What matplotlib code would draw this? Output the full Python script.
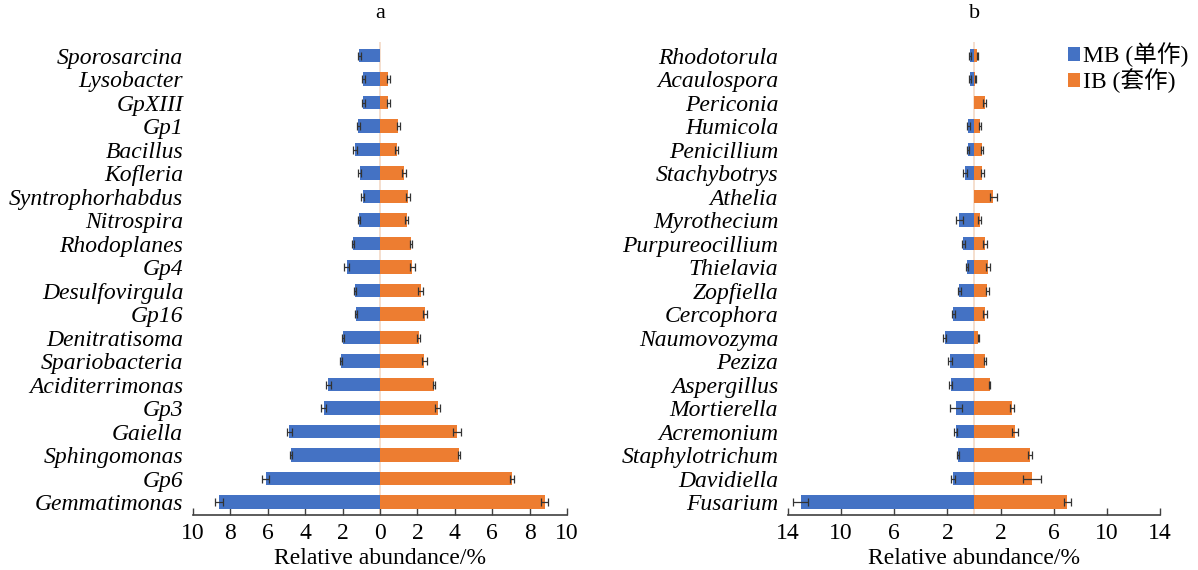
import matplotlib
matplotlib.use("Agg")
import matplotlib.pyplot as plt
import numpy as np

plt.rcParams['font.family'] = ['Liberation Serif', 'Noto Sans CJK SC', 'DejaVu Sans']

# Bacterial genera (top to bottom)
bact_genera = ["Sporosarcina", "Lysobacter", "GpXIII", "Gp1", "Bacillus", "Kofleria",
               "Syntrophorhabdus", "Nitrospira", "Rhodoplanes", "Gp4", "Desulfovirgula",
               "Gp16", "Denitratisoma", "Spariobacteria", "Aciditerrimonas", "Gp3",
               "Gaiella", "Sphingomonas", "Gp6", "Gemmatimonas"]
bact_mb = [1.10, 0.90, 0.90, 1.15, 1.35, 1.07, 0.93, 1.14, 1.43, 1.78, 1.33, 1.30,
           1.99, 2.08, 2.76, 3.02, 4.84, 4.77, 6.12, 8.63]
bact_mb_err = [0.06, 0.08, 0.08, 0.08, 0.10, 0.08, 0.06, 0.06, 0.05, 0.12, 0.06, 0.06,
               0.05, 0.07, 0.15, 0.15, 0.15, 0.05, 0.18, 0.22]
bact_ib = [0.00, 0.45, 0.45, 0.98, 0.90, 1.30, 1.48, 1.43, 1.64, 1.73, 2.17, 2.40,
           2.08, 2.37, 2.90, 3.08, 4.13, 4.23, 7.06, 8.81]
bact_ib_err = [0.00, 0.06, 0.06, 0.08, 0.08, 0.10, 0.10, 0.08, 0.05, 0.12, 0.12, 0.12,
               0.08, 0.12, 0.06, 0.15, 0.22, 0.04, 0.10, 0.20]

# Fungal genera (top to bottom)
fung_genera = ["Rhodotorula", "Acaulospora", "Periconia", "Humicola", "Penicillium",
               "Stachybotrys", "Athelia", "Myrothecium", "Purpureocillium", "Thielavia",
               "Zopfiella", "Cercophora", "Naumovozyma", "Peziza", "Aspergillus",
               "Mortierella", "Acremonium", "Staphylotrichum", "Davidiella", "Fusarium"]
fung_mb = [0.30, 0.33, 0.00, 0.43, 0.45, 0.68, 0.00, 1.10, 0.80, 0.55,
           1.10, 1.55, 2.20, 1.83, 1.75, 1.33, 1.38, 1.20, 1.58, 13.05]
fung_mb_err = [0.08, 0.08, 0.00, 0.10, 0.08, 0.12, 0.00, 0.25, 0.12, 0.08,
               0.10, 0.10, 0.12, 0.15, 0.10, 0.45, 0.10, 0.10, 0.12, 0.56]
fung_ib = [0.25, 0.10, 0.80, 0.45, 0.58, 0.63, 1.45, 0.43, 0.83, 1.05,
           1.00, 0.83, 0.33, 0.80, 1.18, 2.88, 3.08, 4.20, 4.38, 7.03]
fung_ib_err = [0.06, 0.05, 0.10, 0.08, 0.08, 0.12, 0.25, 0.12, 0.12, 0.15,
               0.10, 0.12, 0.05, 0.08, 0.06, 0.15, 0.20, 0.15, 0.70, 0.27]

series_labels = ["MB (单作)", "IB (套作)"]
ticks_a = [-10, -8, -6, -4, -2, 0, 2, 4, 6, 8, 10]
ticks_b = [-14, -10, -6, -2, 2, 6, 10, 14]

BLUE = "#4472C4"
ORANGE = "#ED7D31"
FS = 17

fig = plt.figure(figsize=(11.98, 5.70), dpi=100)
W, H = 1198, 570
bottom_px, top_px = 515, 41.5
ax_a = fig.add_axes([193 / W, (H - bottom_px) / H, 374 / W, (bottom_px - top_px) / H])
ax_b = fig.add_axes([788 / W, (H - bottom_px) / H, 372 / W, (bottom_px - top_px) / H])


def draw_panel(ax, genera, mb, mb_err, ib, ib_err, ticks, lim):
    n = len(genera)
    y = np.arange(n)[::-1]
    mb = np.asarray(mb)
    ib = np.asarray(ib)
    ax.axvline(0, color="#f3d9c6", lw=1.2, zorder=1)
    ax.barh(y, -mb, height=0.57, color=BLUE, zorder=2, label=series_labels[0])
    ax.barh(y, ib, height=0.57, color=ORANGE, zorder=2, label=series_labels[1])
    ekw = dict(fmt="none", ecolor="#333333", elinewidth=0.9, capsize=3, capthick=0.9, zorder=3)
    m = mb > 0
    ax.errorbar(-mb[m], y[m], xerr=np.asarray(mb_err)[m], **ekw)
    m = ib > 0
    ax.errorbar(ib[m], y[m], xerr=np.asarray(ib_err)[m], **ekw)
    ax.set_xlim(-lim, lim)
    ax.set_ylim(-0.55, n - 1 + 0.6)
    ax.set_yticks(y)
    ax.set_yticklabels(genera, fontstyle="italic", fontsize=FS)
    ax.tick_params(axis="y", length=0, pad=7)
    ax.set_xticks(ticks)
    ax.set_xticklabels([str(abs(t)) for t in ticks], fontsize=FS)
    ax.tick_params(axis="x", direction="in", length=5, width=1, color="#404040", pad=6)
    for s in ("top", "right", "left"):
        ax.spines[s].set_visible(False)
    ax.spines["bottom"].set_color("#404040")
    ax.spines["bottom"].set_linewidth(1.2)
    ax.set_xlabel("Relative abundance/%", fontsize=FS, labelpad=3)


draw_panel(ax_a, bact_genera, bact_mb, bact_mb_err, bact_ib, bact_ib_err, ticks_a, 10)
draw_panel(ax_b, fung_genera, fung_mb, fung_mb_err, fung_ib, fung_ib_err, ticks_b, 14)

fig.text(380 / W, 1 - 13 / H, "a", ha="center", va="center", fontsize=16)
fig.text(975 / W, 1 - 13 / H, "b", ha="center", va="center", fontsize=16)

handles, labels = ax_b.get_legend_handles_labels()
fig.legend(handles, labels, loc="upper right", bbox_to_anchor=(1198 / W, 1 - 33 / H),
           frameon=False, fontsize=FS, handlelength=0.5, handleheight=0.5,
           handletextpad=0.15, labelspacing=0.05, borderaxespad=0.0)

fig.savefig("out.png", dpi=100)
